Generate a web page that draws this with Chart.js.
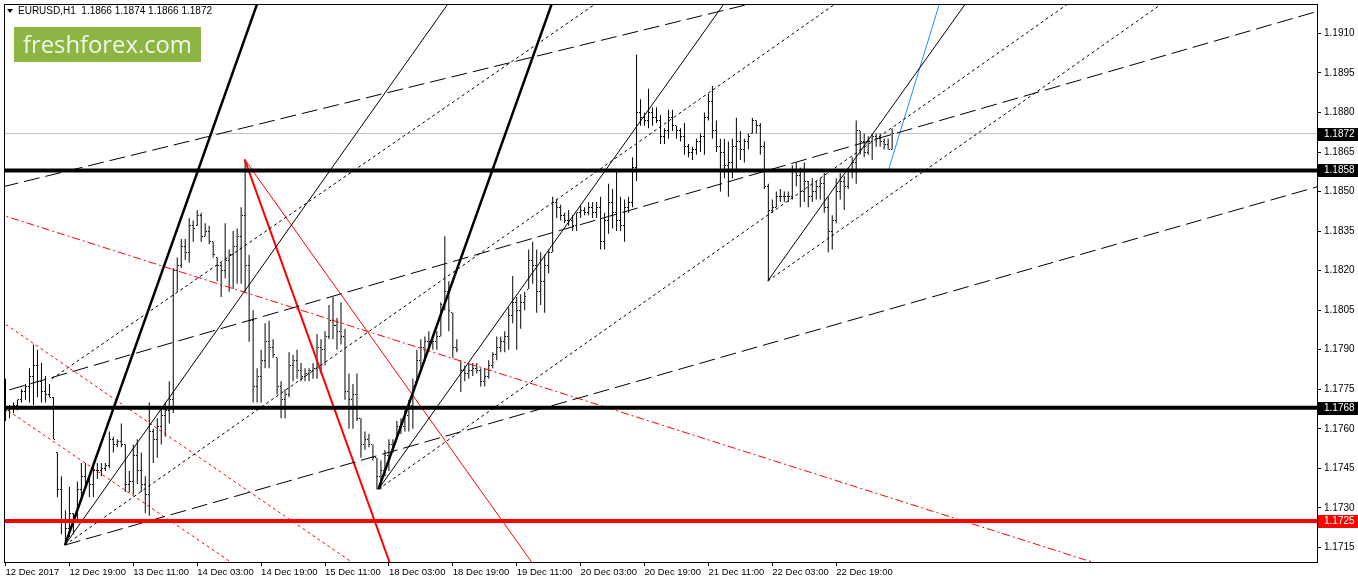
<!DOCTYPE html>
<html lang="en">
<head>
<meta charset="UTF-8">
<title>EURUSD,H1</title>
<script src="https://cdn.jsdelivr.net/npm/chart.js"></script>
<style>
  html, body { margin: 0; padding: 0; background: #fff; }
  canvas { display: block; }
</style>
</head>
<body>
<canvas id="chart" width="1358" height="584"></canvas>
<script>
// ---- data (hourly bars, index 0 = 12 Dec 2017 03:00) ----
const opens = [1.1774,1.1767,1.1768,1.1769,1.1771,1.1774,1.1776,1.1780,1.1784,1.1778,
  1.1774,1.1773,1.1772,1.1751,1.1737,1.1725,1.1722,1.1728,1.1727,1.1737,
  1.1742,1.1740,1.1739,1.1744,1.1744,1.1745,1.1746,1.1756,1.1754,1.1755,
  1.1754,1.1739,1.1740,1.1750,1.1744,1.1739,1.1735,1.1759,1.1756,1.1761,
  1.1765,1.1767,1.1771,1.1820,1.1822,1.1829,1.1827,1.1837,1.1837,1.1841,
  1.1833,1.1835,1.1831,1.1825,1.1822,1.1820,1.1824,1.1826,1.1829,1.1833,
  1.1841,1.1822,1.1801,1.1776,1.1780,1.1786,1.1793,1.1791,1.1787,1.1776,
  1.1771,1.1773,1.1784,1.1786,1.1782,1.1780,1.1781,1.1782,1.1783,1.1791,
  1.1790,1.1795,1.1801,1.1799,1.1797,1.1795,1.1774,1.1771,1.1773,1.1764,
  1.1754,1.1756,1.1754,1.1749,1.1742,1.1744,1.1750,1.1754,1.1756,1.1761,
  1.1761,1.1765,1.1769,1.1778,1.1786,1.1791,1.1793,1.1793,1.1793,1.1795,
  1.1807,1.1812,1.1804,1.1791,1.1786,1.1782,1.1781,1.1782,1.1783,1.1782,
  1.1778,1.1780,1.1784,1.1788,1.1791,1.1793,1.1795,1.1803,1.1808,1.1805,
  1.1808,1.1813,1.1824,1.1822,1.1812,1.1816,1.1822,1.1827,1.1846,1.1844,
  1.1841,1.1839,1.1839,1.1837,1.1842,1.1843,1.1842,1.1844,1.1842,1.1844,
  1.1831,1.1839,1.1846,1.1842,1.1839,1.1837,1.1844,1.1846,1.1859,1.1880,
  1.1878,1.1877,1.1880,1.1878,1.1877,1.1871,1.1873,1.1878,1.1875,1.1873,
  1.1871,1.1867,1.1865,1.1866,1.1869,1.1871,1.1878,1.1884,1.1873,1.1867,
  1.1865,1.1860,1.1861,1.1867,1.1869,1.1866,1.1869,1.1872,1.1877,1.1875,
  1.1867,1.1852,1.1843,1.1844,1.1848,1.1848,1.1848,1.1848,1.1858,1.1856,
  1.1850,1.1854,1.1848,1.1850,1.1852,1.1853,1.1844,1.1835,1.1839,1.1850,
  1.1854,1.1852,1.1858,1.1861,1.1873,1.1869,1.1865,1.1869,1.1871,1.1870,
  1.1869,1.1868,1.1866];
const highs = [1.1779,1.1769,1.1770,1.1771,1.1775,1.1777,1.1783,1.1792,1.1790,1.1785,
  1.1780,1.1777,1.1772,1.1751,1.1742,1.1729,1.1738,1.1728,1.1740,1.1747,
  1.1747,1.1742,1.1747,1.1747,1.1747,1.1747,1.1759,1.1757,1.1756,1.1762,
  1.1754,1.1744,1.1754,1.1756,1.1751,1.1742,1.1770,1.1760,1.1764,1.1768,
  1.1770,1.1778,1.1821,1.1825,1.1832,1.1832,1.1840,1.1839,1.1843,1.1842,
  1.1838,1.1837,1.1831,1.1825,1.1823,1.1838,1.1828,1.1835,1.1836,1.1844,
  1.1862,1.1826,1.1805,1.1783,1.1790,1.1800,1.1801,1.1794,1.1787,1.1778,
  1.1775,1.1789,1.1788,1.1790,1.1785,1.1783,1.1783,1.1785,1.1796,1.1794,
  1.1797,1.1807,1.1810,1.1802,1.1808,1.1798,1.1781,1.1777,1.1781,1.1764,
  1.1759,1.1758,1.1754,1.1749,1.1748,1.1752,1.1756,1.1756,1.1763,1.1764,
  1.1767,1.1771,1.1779,1.1790,1.1794,1.1795,1.1797,1.1794,1.1797,1.1808,
  1.1833,1.1816,1.1804,1.1794,1.1786,1.1784,1.1785,1.1785,1.1785,1.1783,
  1.1783,1.1786,1.1789,1.1795,1.1795,1.1797,1.1806,1.1818,1.1810,1.1811,
  1.1812,1.1828,1.1831,1.1828,1.1827,1.1826,1.1828,1.1848,1.1847,1.1845,
  1.1842,1.1843,1.1841,1.1842,1.1845,1.1844,1.1846,1.1846,1.1846,1.1848,
  1.1842,1.1853,1.1851,1.1858,1.1848,1.1847,1.1848,1.1863,1.1902,1.1885,
  1.1880,1.1889,1.1882,1.1882,1.1879,1.1874,1.1881,1.1881,1.1875,1.1874,
  1.1876,1.1868,1.1867,1.1870,1.1872,1.1880,1.1887,1.1890,1.1877,1.1870,
  1.1870,1.1869,1.1870,1.1878,1.1873,1.1870,1.1872,1.1878,1.1877,1.1876,
  1.1869,1.1853,1.1847,1.1850,1.1851,1.1850,1.1850,1.1860,1.1861,1.1859,
  1.1861,1.1854,1.1855,1.1854,1.1855,1.1857,1.1848,1.1841,1.1855,1.1857,
  1.1856,1.1859,1.1863,1.1877,1.1873,1.1872,1.1871,1.1872,1.1872,1.1872,
  1.1870,1.1870,1.1874];
const lows = [1.1763,1.1764,1.1766,1.1767,1.1770,1.1771,1.1770,1.1769,1.1772,1.1770,
  1.1770,1.1772,1.1756,1.1734,1.1720,1.1716,1.1719,1.1720,1.1725,1.1734,
  1.1738,1.1734,1.1734,1.1741,1.1742,1.1744,1.1745,1.1751,1.1753,1.1753,
  1.1736,1.1736,1.1735,1.1739,1.1736,1.1728,1.1727,1.1747,1.1749,1.1754,
  1.1757,1.1762,1.1766,1.1812,1.1821,1.1824,1.1823,1.1831,1.1837,1.1831,
  1.1833,1.1830,1.1825,1.1816,1.1810,1.1817,1.1812,1.1813,1.1815,1.1815,
  1.1812,1.1793,1.1770,1.1770,1.1770,1.1783,1.1783,1.1787,1.1773,1.1764,
  1.1764,1.1772,1.1778,1.1779,1.1778,1.1778,1.1778,1.1779,1.1779,1.1781,
  1.1784,1.1794,1.1794,1.1790,1.1792,1.1771,1.1760,1.1760,1.1763,1.1749,
  1.1752,1.1753,1.1748,1.1737,1.1737,1.1742,1.1744,1.1751,1.1756,1.1758,
  1.1759,1.1759,1.1760,1.1778,1.1783,1.1786,1.1790,1.1790,1.1790,1.1795,
  1.1805,1.1797,1.1787,1.1789,1.1774,1.1778,1.1779,1.1780,1.1781,1.1776,
  1.1776,1.1779,1.1783,1.1786,1.1789,1.1789,1.1790,1.1800,1.1790,1.1798,
  1.1805,1.1813,1.1815,1.1804,1.1807,1.1804,1.1819,1.1827,1.1840,1.1839,
  1.1838,1.1837,1.1835,1.1835,1.1840,1.1841,1.1841,1.1840,1.1840,1.1828,
  1.1828,1.1834,1.1836,1.1835,1.1835,1.1831,1.1842,1.1844,1.1854,1.1875,
  1.1875,1.1874,1.1875,1.1876,1.1868,1.1868,1.1870,1.1873,1.1870,1.1869,
  1.1864,1.1863,1.1862,1.1864,1.1865,1.1864,1.1877,1.1870,1.1865,1.1850,
  1.1855,1.1848,1.1855,1.1858,1.1862,1.1861,1.1866,1.1872,1.1872,1.1864,
  1.1851,1.1816,1.1842,1.1844,1.1846,1.1846,1.1846,1.1847,1.1852,1.1844,
  1.1846,1.1844,1.1846,1.1847,1.1847,1.1842,1.1827,1.1828,1.1838,1.1847,
  1.1843,1.1851,1.1855,1.1853,1.1864,1.1863,1.1864,1.1862,1.1867,1.1867,
  1.1866,1.1866,1.1866];
const closes = [1.1767,1.1768,1.1769,1.1771,1.1774,1.1776,1.1780,1.1784,1.1778,1.1774,
  1.1773,1.1772,1.1756,1.1737,1.1725,1.1722,1.1728,1.1727,1.1737,1.1742,
  1.1740,1.1739,1.1744,1.1744,1.1745,1.1746,1.1756,1.1754,1.1755,1.1754,
  1.1739,1.1740,1.1750,1.1744,1.1739,1.1735,1.1759,1.1756,1.1761,1.1765,
  1.1767,1.1771,1.1820,1.1822,1.1829,1.1827,1.1837,1.1836,1.1841,1.1833,
  1.1835,1.1831,1.1826,1.1822,1.1820,1.1824,1.1826,1.1829,1.1833,1.1841,
  1.1822,1.1801,1.1776,1.1780,1.1786,1.1793,1.1791,1.1788,1.1776,1.1771,
  1.1773,1.1784,1.1786,1.1782,1.1780,1.1781,1.1782,1.1783,1.1791,1.1790,
  1.1795,1.1801,1.1799,1.1797,1.1795,1.1774,1.1771,1.1773,1.1764,1.1754,
  1.1756,1.1754,1.1749,1.1742,1.1744,1.1750,1.1754,1.1754,1.1761,1.1761,
  1.1765,1.1769,1.1776,1.1786,1.1791,1.1793,1.1793,1.1793,1.1795,1.1807,
  1.1812,1.1805,1.1791,1.1790,1.1782,1.1781,1.1782,1.1783,1.1782,1.1778,
  1.1780,1.1784,1.1788,1.1791,1.1793,1.1795,1.1803,1.1808,1.1805,1.1808,
  1.1810,1.1824,1.1822,1.1812,1.1816,1.1822,1.1827,1.1846,1.1844,1.1841,
  1.1839,1.1839,1.1837,1.1842,1.1843,1.1842,1.1844,1.1842,1.1844,1.1831,
  1.1839,1.1846,1.1842,1.1839,1.1837,1.1844,1.1846,1.1859,1.1880,1.1878,
  1.1877,1.1880,1.1878,1.1877,1.1871,1.1873,1.1878,1.1875,1.1873,1.1871,
  1.1867,1.1865,1.1866,1.1869,1.1871,1.1878,1.1884,1.1873,1.1867,1.1865,
  1.1860,1.1861,1.1867,1.1869,1.1866,1.1869,1.1871,1.1877,1.1875,1.1867,
  1.1852,1.1843,1.1844,1.1848,1.1848,1.1848,1.1848,1.1858,1.1856,1.1850,
  1.1854,1.1848,1.1850,1.1852,1.1853,1.1844,1.1835,1.1839,1.1850,1.1854,
  1.1852,1.1858,1.1861,1.1873,1.1869,1.1865,1.1869,1.1871,1.1870,1.1869,
  1.1868,1.1866,1.1872];

const timeTickBars = [0, 16, 32, 48, 64, 80, 96, 112, 128, 144, 160, 176, 192, 208];
const timeLabels = ['12 Dec 2017', '12 Dec 19:00', '13 Dec 11:00', '14 Dec 03:00', '14 Dec 19:00',
  '15 Dec 11:00', '18 Dec 03:00', '18 Dec 19:00', '19 Dec 11:00', '20 Dec 03:00',
  '20 Dec 19:00', '21 Dec 11:00', '22 Dec 03:00', '22 Dec 19:00'];
const priceTicks = [1.1715, 1.1730, 1.1745, 1.1760, 1.1775, 1.1790, 1.1805, 1.1820,
  1.1835, 1.1850, 1.1865, 1.1880, 1.1895, 1.1910];

// horizontal levels
const levelPrices = [1.1872, 1.1858, 1.1768, 1.1725];

// trend lines: anchor points [bar, price]
const lineFrom = [
  [14.875, 1.17159], [93.375, 1.17371],                     // steep fan lines
  [14.875, 1.17159], [93.375, 1.17371], [190.875, 1.18161], // medium fan lines
  [14.875, 1.17159], [93.375, 1.17371], [190.875, 1.18161], // dotted fan lines
  [11.625, 1.17790],                                         // upper dotted
  [-0.125, 1.18520], [-0.125, 1.17737], [14.875, 1.17159],   // long dashed channel
  [59.875, 1.18622], [59.875, 1.18622],                      // red fan from high
  [-0.125, 1.18414], [-0.125, 1.17998], [-0.125, 1.17677],   // red channel
  [221.125, 1.18584]                                         // blue
];
const lineTo = [
  [49.875, 1.18652], [133.375, 1.19068],
  [84.625, 1.18652], [150.375, 1.18584], [222.875, 1.18841],
  [183.625, 1.18955], [207.125, 1.18584], [289.125, 1.19208],
  [94.125, 1.18652],
  [185.375, 1.19208], [328.125, 1.18936], [328.125, 1.18342],
  [96.125, 1.17095], [120.375, 1.17336],
  [276.625, 1.17095], [86.625, 1.17095], [56.375, 1.17095],
  [233.75, 1.19208]
];
const lineExtend = ['ray', 'ray', 'ray', 'ray', 'ray', 'ray', 'ray', 'ray', 'ray',
  'both', 'both', 'ray', 'ray', 'ray', 'both', 'both', 'both', 'ray'];

// styles for each trend line
const lineStyle = [
  { c: '#000', w: 2.5, d: [] }, { c: '#000', w: 2.5, d: [] },
  { c: '#000', w: 1, d: [] }, { c: '#000', w: 1, d: [] }, { c: '#000', w: 1, d: [] },
  { c: '#000', w: 1, d: [3, 3] }, { c: '#000', w: 1, d: [3, 3] }, { c: '#000', w: 1, d: [3, 3] },
  { c: '#000', w: 1, d: [3, 3] },
  { c: '#000', w: 1, d: [16, 6] }, { c: '#000', w: 1, d: [16, 6] }, { c: '#000', w: 1, d: [16, 6] },
  { c: '#f00', w: 2, d: [] }, { c: '#f00', w: 1, d: [] },
  { c: '#f00', w: 1, d: [8, 3, 2, 3] }, { c: '#f00', w: 1, d: [3, 3] }, { c: '#f00', w: 1, d: [3, 3] },
  { c: '#1e90ff', w: 1, d: [] }
];
const levelStyle = [
  { c: '#c0c0c0', w: 1 }, { c: '#000', w: 4 }, { c: '#000', w: 4 }, { c: '#f00', w: 4 }
];
const labelBoxColors = ['#000', '#000', '#000', '#f00'];

const FONT = '"Liberation Sans", Arial, sans-serif';

function tickImage(side) {
  const c = document.createElement('canvas');
  c.width = 3; c.height = 1;
  const g = c.getContext('2d');
  g.fillStyle = '#000';
  g.fillRect(side === 'open' ? 0 : 2, 0, 1, 1);
  return c;
}

const datasets = [];

// trend lines
lineFrom.forEach((p1, k) => {
  const p2 = lineTo[k];
  const dx = p2[0] - p1[0], dy = p2[1] - p1[1];
  const far = [p1[0] + dx * 30, p1[1] + dy * 30];
  const start = lineExtend[k] === 'both' ? [p1[0] - dx * 30, p1[1] - dy * 30] : p1;
  const s = lineStyle[k];
  datasets.push({
    type: 'line',
    data: [{ x: start[0], y: start[1] }, { x: far[0], y: far[1] }],
    borderColor: s.c, borderWidth: s.w, borderDash: s.d,
    pointRadius: 0, fill: false, clip: 0, order: 1
  });
});

// horizontal levels
levelPrices.forEach((p, k) => {
  datasets.push({
    type: 'line',
    data: [{ x: -10, y: p }, { x: 400, y: p }],
    borderColor: levelStyle[k].c, borderWidth: levelStyle[k].w,
    pointRadius: 0, fill: false, clip: 0, order: k === 0 ? 3 : 0
  });
});

// open / close ticks
datasets.push({
  type: 'line', showLine: false, order: 2,
  data: opens.map((v, i) => ({ x: i, y: v })),
  pointStyle: tickImage('open'), pointRadius: 1
});
datasets.push({
  type: 'line', showLine: false, order: 2,
  data: closes.map((v, i) => ({ x: i, y: v })),
  pointStyle: tickImage('close'), pointRadius: 1
});
// high-low bars
datasets.push({
  type: 'bar', order: 2,
  data: highs.map((h, i) => ({ x: i, y: [lows[i], h] })),
  backgroundColor: '#000', borderWidth: 0, barThickness: 1, inflateAmount: 0, grouped: false
});

const overlay = {
  id: 'overlay',
  beforeDatasetsDraw(chart) {
    chart.ctx.imageSmoothingEnabled = false;
  },
  afterDraw(chart) {
    const ctx = chart.ctx;
    const a = chart.chartArea;
    const y = chart.scales.y;
    ctx.save();
    // frame
    ctx.strokeStyle = '#000';
    ctx.lineWidth = 1;
    ctx.strokeRect(a.left - 0.5, a.top - 0.5, a.right - a.left + 1, a.bottom - a.top + 1);

    // header
    ctx.fillStyle = '#000';
    ctx.beginPath();
    ctx.moveTo(7, 9); ctx.lineTo(13, 9); ctx.lineTo(10, 13); ctx.closePath(); ctx.fill();
    ctx.font = '10px ' + FONT;
    ctx.textBaseline = 'middle';
    ctx.fillText('EURUSD,H1  1.1866 1.1874 1.1866 1.1872', 18, 11);

    // logo
    ctx.fillStyle = '#8cb543';
    ctx.fillRect(14, 27, 187, 35);
    ctx.fillStyle = '#f3f8e8';
    let fs = 26;
    ctx.font = fs + 'px "Open Sans", ' + FONT;
    const w = ctx.measureText('freshforex.com').width;
    fs = fs * 169 / w;
    ctx.font = fs.toFixed(1) + 'px "Open Sans", ' + FONT;
    ctx.textBaseline = 'alphabetic';
    ctx.fillText('freshforex.com', 23, 53);

    // price boxes on the axis
    ctx.font = '10px ' + FONT;
    ctx.textBaseline = 'middle';
    levelPrices.forEach((p, k) => {
      const py = Math.round(y.getPixelForValue(p));
      ctx.fillStyle = labelBoxColors[k];
      ctx.fillRect(a.right + 1, py - 6, 1358 - a.right - 1, 13);
      ctx.fillStyle = '#fff';
      ctx.fillText(p.toFixed(4), a.right + 7, py + 0.5);
    });
    ctx.restore();
  }
};

new Chart(document.getElementById('chart'), {
  type: 'bar',
  data: { datasets },
  plugins: [overlay],
  options: {
    responsive: false,
    animation: false,
    events: [],
    layout: { padding: { left: 3, top: 3, right: 0, bottom: 0 } },
    plugins: { legend: { display: false }, tooltip: { enabled: false } },
    scales: {
      x: {
        type: 'linear', position: 'bottom', offset: false,
        min: -0.125, max: 328.375,
        afterBuildTicks(scale) { scale.ticks = timeTickBars.map(v => ({ value: v })); },
        afterFit(scale) {
          scale.height = 22;
          scale.paddingLeft = 0; scale.paddingRight = 0;
        },
        ticks: {
          autoSkip: false, maxRotation: 0, minRotation: 0, align: 'start',
          labelOffset: 0, padding: 1, color: '#000',
          font: { family: FONT, size: 9.5 },
          callback: (v, i) => timeLabels[i]
        },
        grid: { offset: false, drawOnChartArea: false, drawTicks: true, tickLength: 4, color: '#000' },
        border: { display: true, color: '#000' }
      },
      y: {
        type: 'linear', position: 'right',
        min: 1.170947, max: 1.192077,
        afterBuildTicks(scale) { scale.ticks = priceTicks.map(v => ({ value: v })); },
        afterFit(scale) {
          scale.width = 41;
          scale.paddingTop = 0; scale.paddingBottom = 0;
        },
        ticks: {
          padding: 3, color: '#000',
          font: { family: FONT, size: 10 },
          callback: v => v.toFixed(4)
        },
        grid: { drawOnChartArea: false, drawTicks: true, tickLength: 4, color: '#000' },
        border: { display: true, color: '#000' }
      }
    }
  }
});
</script>
</body>
</html>
